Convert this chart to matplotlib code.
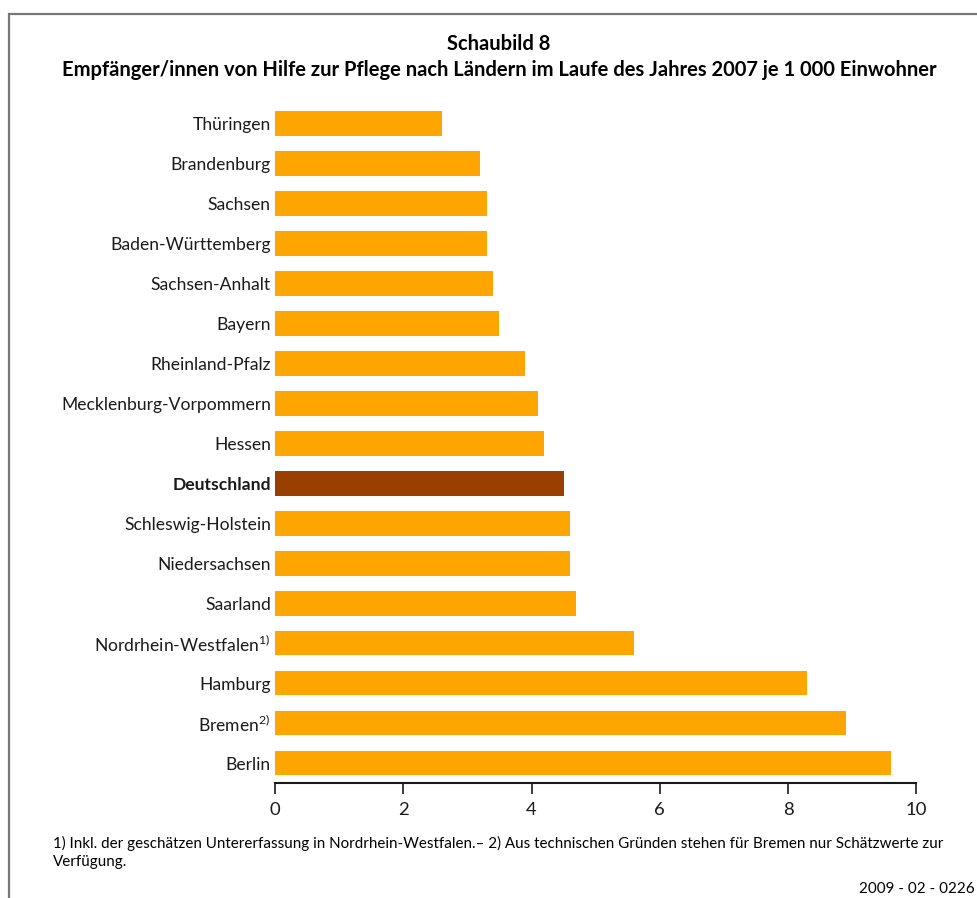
import matplotlib
matplotlib.use("Agg")
import matplotlib.pyplot as plt
from matplotlib.patches import Rectangle

plt.rcParams['font.family'] = ['Lato', 'DejaVu Sans']
plt.rcParams['mathtext.fontset'] = 'custom'
plt.rcParams['mathtext.rm'] = 'Lato'

categories = ["Thüringen", "Brandenburg", "Sachsen", "Baden-Württemberg", "Sachsen-Anhalt",
              "Bayern", "Rheinland-Pfalz", "Mecklenburg-Vorpommern", "Hessen", "Deutschland",
              "Schleswig-Holstein", "Niedersachsen", "Saarland", "Nordrhein-Westfalen$^{\\mathrm{1)}}$",
              "Hamburg", "Bremen$^{\\mathrm{2)}}$", "Berlin"]
values = [2.6, 3.2, 3.3, 3.3, 3.4, 3.5, 3.9, 4.1, 4.2, 4.5, 4.6, 4.6, 4.7, 5.6, 8.3, 8.9, 9.6]
highlight = "Deutschland"
xticks = [0, 2, 4, 6, 8, 10]

W, H = 978, 898
fig = plt.figure(figsize=(W / 100, H / 100), dpi=100)
ax = fig.add_axes([275 / W, 1 - 783 / H, (916.3 - 275) / W, (783 - 103.5) / H])

colors = ['#993F00' if c == highlight else '#FFA500' for c in categories]
ypos = list(range(len(categories)))
ax.barh(ypos, values, height=0.62, color=colors)
ax.set_ylim(len(categories) - 0.5, -0.5)
ax.set_xlim(0, 10)
ax.set_yticks(ypos)
ax.set_yticklabels(categories, fontsize=12.6, color='#1a1a1a')
for lbl in ax.get_yticklabels():
    if lbl.get_text() == highlight:
        lbl.set_fontweight('bold')
ax.tick_params(axis='y', length=0, pad=3)
ax.set_xticks(xticks)
ax.set_xticklabels([str(t) for t in xticks], fontsize=13.3, color='#1a1a1a')
ax.tick_params(axis='x', direction='out', length=8, width=1.2, pad=6, color='#1a1a1a')
for s in ['top', 'right', 'left']:
    ax.spines[s].set_visible(False)
ax.spines['bottom'].set_linewidth(1.5)
ax.spines['bottom'].set_color('#1a1a1a')

fig.text(499 / W, 1 - 44 / H, "Schaubild 8", ha='center', va='center', fontsize=14.5, fontweight='bold')
fig.text(499 / W, 1 - 70 / H,
         "Empfänger/innen von Hilfe zur Pflege nach Ländern im Laufe des Jahres 2007 je 1 000 Einwohner",
         ha='center', va='center', fontsize=14.5, fontweight='bold')

fig.text(53 / W, 1 - 843 / H,
         "1) Inkl. der geschätzen Untererfassung in Nordrhein-Westfalen.– 2) Aus technischen Gründen stehen für Bremen nur Schätzwerte zur",
         ha='left', va='center', fontsize=10.9)
fig.text(53 / W, 1 - 862 / H, "Verfügung.", ha='left', va='center', fontsize=10.9)
fig.text(975 / W, 1 - 889 / H, "2009 - 02 - 0226", ha='right', va='center', fontsize=10.9)

fig.patches.append(Rectangle((9 / W, -0.1), 1.2, 1 - 14 / H + 0.1, transform=fig.transFigure,
                             fill=False, edgecolor='#777777', linewidth=1.6))

fig.savefig("out.png", dpi=100)
